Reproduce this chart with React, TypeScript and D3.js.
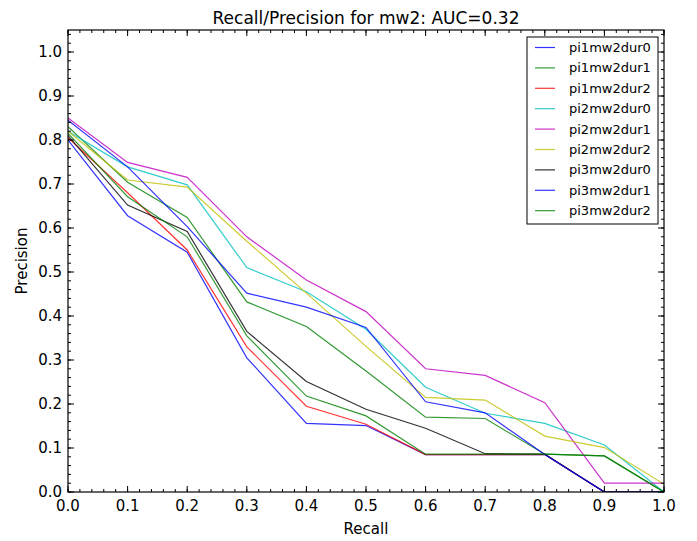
import React from "react";
import * as d3 from "d3";

const recall = [0, 0.1, 0.2, 0.3, 0.4, 0.5, 0.6, 0.7, 0.8, 0.9, 1.0];

const seriesNames = [
  "pi1mw2dur0",
  "pi1mw2dur1",
  "pi1mw2dur2",
  "pi2mw2dur0",
  "pi2mw2dur1",
  "pi2mw2dur2",
  "pi3mw2dur0",
  "pi3mw2dur1",
  "pi3mw2dur2",
];

const seriesColors = ["#0000ff", "#008000", "#ff0000", "#00bfbf", "#bf00bf", "#bfbf00", "#000000", "#0000ff", "#008000"];

const pi1mw2dur0 = [0.80, 0.628, 0.545, 0.305, 0.156, 0.151, 0.085, 0.085, 0.085, 0.0, 0.0];
const pi1mw2dur1 = [0.83, 0.704, 0.624, 0.432, 0.376, 0.275, 0.17, 0.167, 0.086, 0.082, 0.0];
const pi1mw2dur2 = [0.805, 0.68, 0.55, 0.33, 0.195, 0.154, 0.085, 0.085, 0.085, 0.0, 0.0];
const pi2mw2dur0 = [0.82, 0.739, 0.698, 0.51, 0.455, 0.37, 0.238, 0.179, 0.156, 0.107, 0.0];
const pi2mw2dur1 = [0.85, 0.749, 0.715, 0.58, 0.482, 0.41, 0.28, 0.265, 0.203, 0.02, 0.02];
const pi2mw2dur2 = [0.82, 0.709, 0.693, 0.57, 0.452, 0.331, 0.215, 0.209, 0.127, 0.101, 0.018];
const pi3mw2dur0 = [0.81, 0.652, 0.592, 0.365, 0.251, 0.188, 0.145, 0.087, 0.086, 0.0, 0.0];
const pi3mw2dur1 = [0.845, 0.739, 0.603, 0.452, 0.42, 0.374, 0.205, 0.18, 0.085, 0.0, 0.0];
const pi3mw2dur2 = [0.815, 0.671, 0.58, 0.355, 0.218, 0.173, 0.086, 0.086, 0.086, 0.082, 0.0];

const seriesValues = [pi1mw2dur0, pi1mw2dur1, pi1mw2dur2, pi2mw2dur0, pi2mw2dur1, pi2mw2dur2, pi3mw2dur0, pi3mw2dur1, pi3mw2dur2];

const xTicks = [0, 0.1, 0.2, 0.3, 0.4, 0.5, 0.6, 0.7, 0.8, 0.9, 1.0];
const yTicks = [0, 0.1, 0.2, 0.3, 0.4, 0.5, 0.6, 0.7, 0.8, 0.9, 1.0];

const W = 697;
const H = 541;
const L = 68;
const R = 664;
const T = 30;
const B = 492;
const FONT = "DejaVu Sans, sans-serif";

export default function App() {
  const x = d3.scaleLinear().domain([0, 1]).range([L, R]);
  const y = d3.scaleLinear().domain([0, 1.05]).range([B, T]);
  const line = d3
    .line<number>()
    .x((_, i) => x(recall[i]))
    .y((d) => y(d));

  const xMinor = d3.range(0, 1.0001, 0.02);
  const yMinor = d3.range(0, 1.0501, 0.02);

  const legX = 527;
  const legY = 37;
  const legW = 131;
  const legH = 187;
  const rowH = 20.4;

  return (
    <svg width={W} height={H} style={{ position: "absolute", left: 0, top: 0, background: "#fff" }}>
      <rect x={0} y={0} width={W} height={H} fill="#fff" />
      <defs>
        <clipPath id="clip">
          <rect x={L} y={T} width={R - L} height={B - T} />
        </clipPath>
      </defs>
      <g clipPath="url(#clip)">
        {seriesValues.map((vals, i) => (
          <path
            key={seriesNames[i]}
            d={line(vals) || ""}
            fill="none"
            stroke={seriesColors[i]}
            strokeWidth={1.2}
            strokeOpacity={0.8}
          />
        ))}
      </g>
      {/* ticks */}
      <g stroke="#000" strokeWidth={1}>
        {xMinor.map((v) => (
          <g key={"xm" + v}>
            <line x1={x(v)} x2={x(v)} y1={B} y2={B - 3} />
            <line x1={x(v)} x2={x(v)} y1={T} y2={T + 3} />
          </g>
        ))}
        {yMinor.map((v) => (
          <g key={"ym" + v}>
            <line x1={L} x2={L + 3} y1={y(v)} y2={y(v)} />
            <line x1={R} x2={R - 3} y1={y(v)} y2={y(v)} />
          </g>
        ))}
        {xTicks.map((v) => (
          <g key={"xM" + v}>
            <line x1={x(v)} x2={x(v)} y1={B} y2={B - 6} />
            <line x1={x(v)} x2={x(v)} y1={T} y2={T + 6} />
          </g>
        ))}
        {yTicks.map((v) => (
          <g key={"yM" + v}>
            <line x1={L} x2={L + 6} y1={y(v)} y2={y(v)} />
            <line x1={R} x2={R - 6} y1={y(v)} y2={y(v)} />
          </g>
        ))}
      </g>
      <rect x={L} y={T} width={R - L} height={B - T} fill="none" stroke="#000" strokeWidth={1.2} />
      {/* tick labels */}
      <g fontFamily={FONT} fontSize={15} fill="#000">
        {xTicks.map((v) => (
          <text key={"xl" + v} x={x(v)} y={B + 19} textAnchor="middle">
            {v.toFixed(1)}
          </text>
        ))}
        {yTicks.map((v) => (
          <text key={"yl" + v} x={L - 6} y={y(v) + 5} textAnchor="end">
            {v.toFixed(1)}
          </text>
        ))}
      </g>
      <text x={(L + R) / 2} y={24} textAnchor="middle" fontFamily={FONT} fontSize={17}>
        Recall/Precision for mw2: AUC=0.32
      </text>
      <text x={(L + R) / 2} y={534} textAnchor="middle" fontFamily={FONT} fontSize={15}>
        Recall
      </text>
      <text
        transform={`translate(27, ${(T + B) / 2}) rotate(-90)`}
        textAnchor="middle"
        fontFamily={FONT}
        fontSize={15}
      >
        Precision
      </text>
      {/* legend */}
      <rect x={legX} y={legY} width={legW} height={legH} fill="#fff" stroke="#000" strokeWidth={1} />
      {seriesNames.map((n, i) => {
        const cy = legY + 10.5 + i * rowH;
        return (
          <g key={"leg" + n}>
            <line x1={legX + 8} x2={legX + 28} y1={cy} y2={cy} stroke={seriesColors[i]} strokeWidth={1.2} strokeOpacity={0.8} />
            <text x={legX + 42} y={cy + 4.5} fontFamily={FONT} fontSize={13}>
              {n}
            </text>
          </g>
        );
      })}
    </svg>
  );
}
